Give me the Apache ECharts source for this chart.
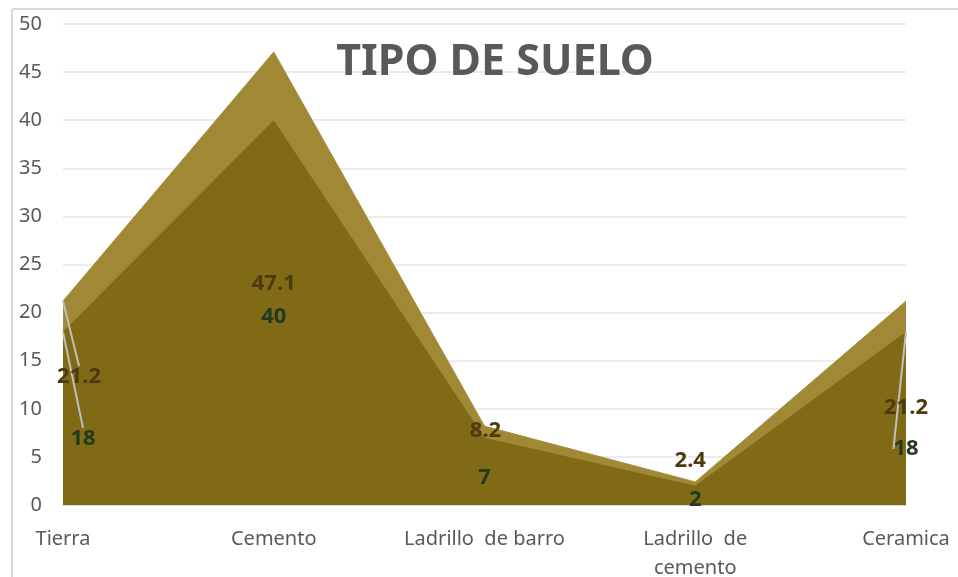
<!DOCTYPE html>
<html>
<head>
<meta charset="utf-8">
<script src="https://cdn.jsdelivr.net/npm/echarts@6/dist/echarts.min.js"></script>
<style>
  html, body { margin: 0; padding: 0; background: #fff; }
  #mycharts { width: 958px; height: 577px; }
</style>
</head>
<body>
<div id="mycharts"></div>
<script>
// datos
var categorias = ["Tierra", "Cemento", "Ladrillo  de barro", "Ladrillo  de\ncemento", "Ceramica"];
var serieAtras = [21.2, 47.1, 8.2, 2.4, 21.2];
var serieFrente = [18, 40, 7, 2, 18];
var ticksY = [0, 5, 10, 15, 20, 25, 30, 35, 40, 45, 50];

// desplazamiento de etiquetas (estilo Excel)
var offAtras = [[16, 92], [0, 248], [1, 21], [-5, -5], [0, 123]];
var offFrente = [[20, 123], [0, 213], [0, 56], [0, 30], [0, 133]];

function armar(valores, conLinea) {
  return valores.map(function (v, i) {
    return { value: v, labelLine: { show: conLinea.indexOf(i) >= 0 } };
  });
}

var mycharts = echarts.init(document.getElementById("mycharts"));
var fuente = "'Noto Sans', sans-serif";

var option = {
  animation: false,
  title: {
    text: "TIPO DE SUELO",
    left: 490,
    top: 36,
    textAlign: "center",
    textStyle: { fontFamily: fuente, fontSize: 43, fontWeight: "bold", color: "#595959" }
  },
  graphic: [
    { type: "line", shape: { x1: 12, y1: 9, x2: 958, y2: 9 }, style: { stroke: "#d9d9d9", lineWidth: 2 } },
    { type: "line", shape: { x1: 12, y1: 9, x2: 12, y2: 577 }, style: { stroke: "#d9d9d9", lineWidth: 2 } }
  ],
  grid: { left: 63, right: 52, top: 24, bottom: 72, outerBoundsMode: "none" },
  xAxis: {
    type: "category",
    boundaryGap: false,
    data: categorias,
    axisLine: { show: true, lineStyle: { color: "#d9d9d9" } },
    axisTick: { show: false },
    axisLabel: {
      interval: 0,
      margin: 20,
      fontFamily: fuente,
      fontSize: 20,
      lineHeight: 29,
      color: "#595959",
      verticalAlign: "top"
    }
  },
  yAxis: {
    type: "value",
    min: ticksY[0],
    max: ticksY[ticksY.length - 1],
    interval: 5,
    axisLine: { show: false },
    axisTick: { show: false },
    splitLine: { lineStyle: { color: "#ececec", width: 2 } },
    axisLabel: { margin: 21, fontFamily: fuente, fontSize: 20, color: "#595959" }
  },
  series: [
    {
      name: "atras",
      type: "line",
      data: armar(serieAtras, [0]),
      symbol: "circle",
      symbolSize: 0,
      lineStyle: { width: 1, color: "#a88e3e" },
      itemStyle: { color: "#a08834" },
      areaStyle: { color: "#a08834", opacity: 1 },
      label: {
        show: true,
        position: "top",
        fontFamily: fuente,
        fontSize: 22,
        fontWeight: "bold",
        color: "#4b3b0c"
      },
      labelLine: { show: false, lineStyle: { color: "#bfbfbf", width: 2 } },
      labelLayout: function (p) {
        return { dx: offAtras[p.dataIndex][0], dy: offAtras[p.dataIndex][1] };
      }
    },
    {
      name: "frente",
      type: "line",
      data: armar(serieFrente, [0, 4]),
      symbol: "circle",
      symbolSize: 0,
      lineStyle: { width: 0 },
      itemStyle: { color: "#806a15" },
      areaStyle: { color: "#806a15", opacity: 1 },
      label: {
        show: true,
        position: "top",
        fontFamily: fuente,
        fontSize: 22,
        fontWeight: "bold",
        color: "#223a1e"
      },
      labelLine: { show: false, lineStyle: { color: "#bfbfbf", width: 2 } },
      labelLayout: function (p) {
        return { dx: offFrente[p.dataIndex][0], dy: offFrente[p.dataIndex][1] };
      }
    }
  ]
};
mycharts.setOption(option);
</script>
</body>
</html>
